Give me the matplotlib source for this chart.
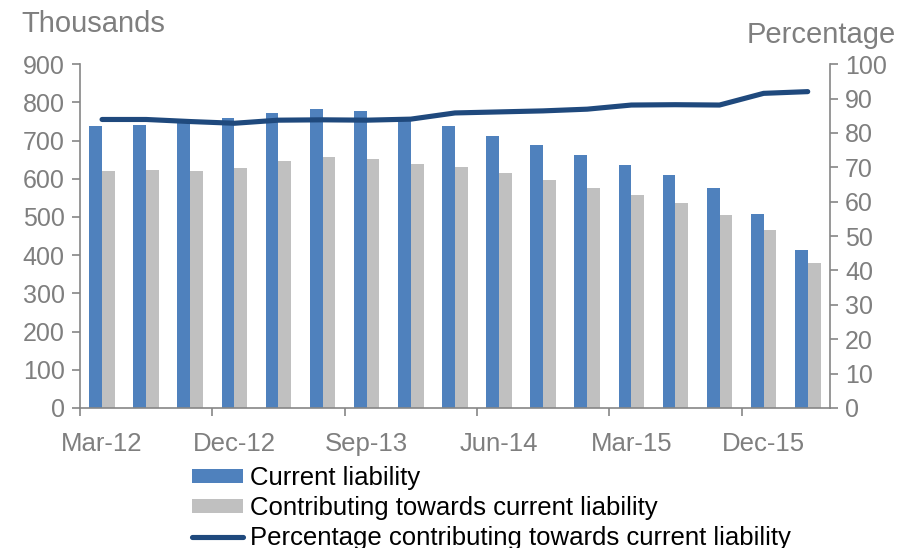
import numpy as np
import matplotlib.pyplot as plt

plt.rcParams['font.family'] = ['Liberation Sans', 'DejaVu Sans']

quarters = ['Mar-12', 'Jun-12', 'Sep-12', 'Dec-12', 'Mar-13', 'Jun-13', 'Sep-13',
            'Dec-13', 'Mar-14', 'Jun-14', 'Sep-14', 'Dec-14', 'Mar-15', 'Jun-15',
            'Sep-15', 'Dec-15', 'Mar-16']
current = [737, 740, 749, 760, 772, 783, 778, 760, 738, 713, 688, 661, 635, 609,
           575, 509, 413]
contributing = [619, 622, 620, 629, 646, 656, 651, 638, 631, 615, 596, 576, 557,
                536, 505, 466, 379]
pct = [83.9, 83.9, 83.3, 82.8, 83.7, 83.8, 83.7, 84.0, 85.8, 86.1, 86.4, 86.9,
       88.1, 88.2, 88.1, 91.5, 92.0]

blue = '#4f81bd'
grey = '#c0c0c0'
navy = '#1f497d'
axcol = '#868686'
txtcol = '#7f7f7f'

fig = plt.figure(figsize=(8.99, 5.48), dpi=100)
ax = fig.add_axes([0.089, 0.2555, 0.834, 0.6275])
ax2 = ax.twinx()

x = np.arange(len(quarters))
w = 0.29
b1 = ax.bar(x - w / 2, current, w, color=blue, label='Current liability', zorder=2)
b2 = ax.bar(x + w / 2, contributing, w, color=grey,
            label='Contributing towards current liability', zorder=2)
ln, = ax2.plot(x, pct, color=navy, lw=3.7, solid_capstyle='round',
               label='Percentage contributing towards current liability')

ax.set_xlim(-0.5, len(quarters) - 0.5)
ax.set_ylim(0, 900)
ax.set_yticks(range(0, 901, 100))
ax2.set_ylim(0, 100)
ax2.set_yticks(range(0, 101, 10))

ax.set_xticks(x[::3])
ax.set_xticklabels(quarters[::3])
ax.set_xticks(np.arange(-0.5, len(quarters) - 1, 3), minor=True)
ax.tick_params(axis='x', which='major', length=0, pad=17, labelsize=18.5,
               labelcolor=txtcol)
ax.tick_params(axis='x', which='minor', length=6, width=1.2, color=axcol)

for a in (ax, ax2):
    for s in a.spines.values():
        s.set_visible(False)
    a.tick_params(axis='y', length=6, width=1.2, color=axcol, labelsize=18,
                  labelcolor=txtcol, pad=5)
ax.spines['left'].set_visible(True)
ax.spines['bottom'].set_visible(True)
ax2.spines['right'].set_visible(True)
for s in (ax.spines['left'], ax.spines['bottom'], ax2.spines['right']):
    s.set_color(axcol)
    s.set_linewidth(1.2)

fig.text(0.024, 0.957, 'Thousands', fontsize=21, color=txtcol, va='center')
fig.text(0.996, 0.937, 'Percentage', fontsize=21, color=txtcol, va='center', ha='right')

fig.legend(handles=[b1, b2, ln], loc='upper left', bbox_to_anchor=(0.199, 0.173),
           frameon=False, fontsize=18.5, handlelength=2.0, handleheight=0.5,
           handletextpad=0.25, labelspacing=0.23, borderpad=0)

fig.savefig('out.png', dpi=100)
